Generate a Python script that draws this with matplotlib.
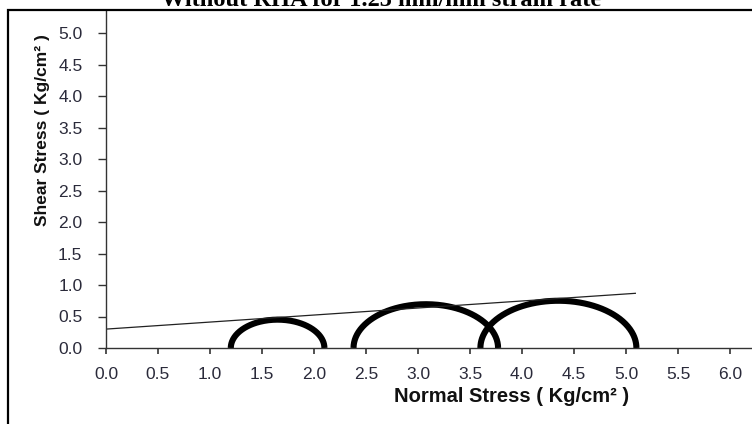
import matplotlib.pyplot as plt
import numpy as np
from matplotlib.patches import Rectangle

# Mohr circles: normal stress at failure, minor and major principal
sigma3 = [1.20, 2.38, 3.60]
sigma1 = [2.10, 3.77, 5.10]

# failure envelope (two end points)
env_x = [0.0, 5.09]
env_y = [0.30, 0.868]

xticks = [0.0, 0.5, 1.0, 1.5, 2.0, 2.5, 3.0, 3.5, 4.0, 4.5, 5.0, 5.5, 6.0]
yticks = [0.0, 0.5, 1.0, 1.5, 2.0, 2.5, 3.0, 3.5, 4.0, 4.5, 5.0]

fig = plt.figure(figsize=(7.52, 4.24), dpi=100)
ax = fig.add_axes([106/752, 76/424, 1 - 106/752, 337/424])

theta = np.linspace(0, np.pi, 200)
for s3, s1 in zip(sigma3, sigma1):
    c = (s1 + s3) / 2
    r = (s1 - s3) / 2
    ax.plot(c + r*np.cos(theta), r*np.sin(theta), color='black', lw=4.4,
            solid_capstyle='butt', clip_on=False)

ax.plot(env_x, env_y, color='#222222', lw=0.9)

ax.set_xlim(0, 646/104)
ax.set_ylim(0, 337/63)
ax.set_xticks(xticks)
ax.set_yticks(yticks)
ax.set_xticklabels(['%.1f' % v for v in xticks])
ax.set_yticklabels(['%.1f' % v for v in yticks])

for s in ['top', 'right']:
    ax.spines[s].set_visible(False)
for s in ['left', 'bottom']:
    ax.spines[s].set_color('#333333')
    ax.spines[s].set_linewidth(1.0)

ax.tick_params(axis='x', direction='out', length=4, width=1.2, pad=10,
               colors='#333333', labelcolor='#2a2a3a', labelsize=12.5)
ax.tick_params(axis='y', direction='out', length=6, width=1.0, pad=11,
               colors='#333333', labelcolor='#2a2a3a', labelsize=12.5)
for lab in ax.get_xticklabels() + ax.get_yticklabels():
    lab.set_family('Liberation Sans')

ax.set_xlabel('Normal Stress ( Kg/cm² )', family='Liberation Sans',
              fontweight='bold', fontsize=14.5, color='#111111')
ax.xaxis.set_label_coords(0.628, -0.115)
ax.set_ylabel('Shear Stress ( Kg/cm² )', family='Liberation Sans',
              fontweight='bold', fontsize=12.5, color='#111111')
ax.yaxis.set_label_coords(-0.086, 0.647)

# outer frame around the figure, running off the right and bottom edges
fig.patches.append(Rectangle((8/752, -0.2), 1.2, 1.2 - 10/424,
                             transform=fig.transFigure, fill=False,
                             edgecolor='black', lw=1.6, clip_on=False))

fig.text(381/752, 1 - 6/424, 'Without RHA for 1.25 mm/mm strain rate',
         family='Liberation Serif', fontweight='bold', fontsize=17.6,
         ha='center', va='baseline')

plt.savefig('out.png', dpi=100)
